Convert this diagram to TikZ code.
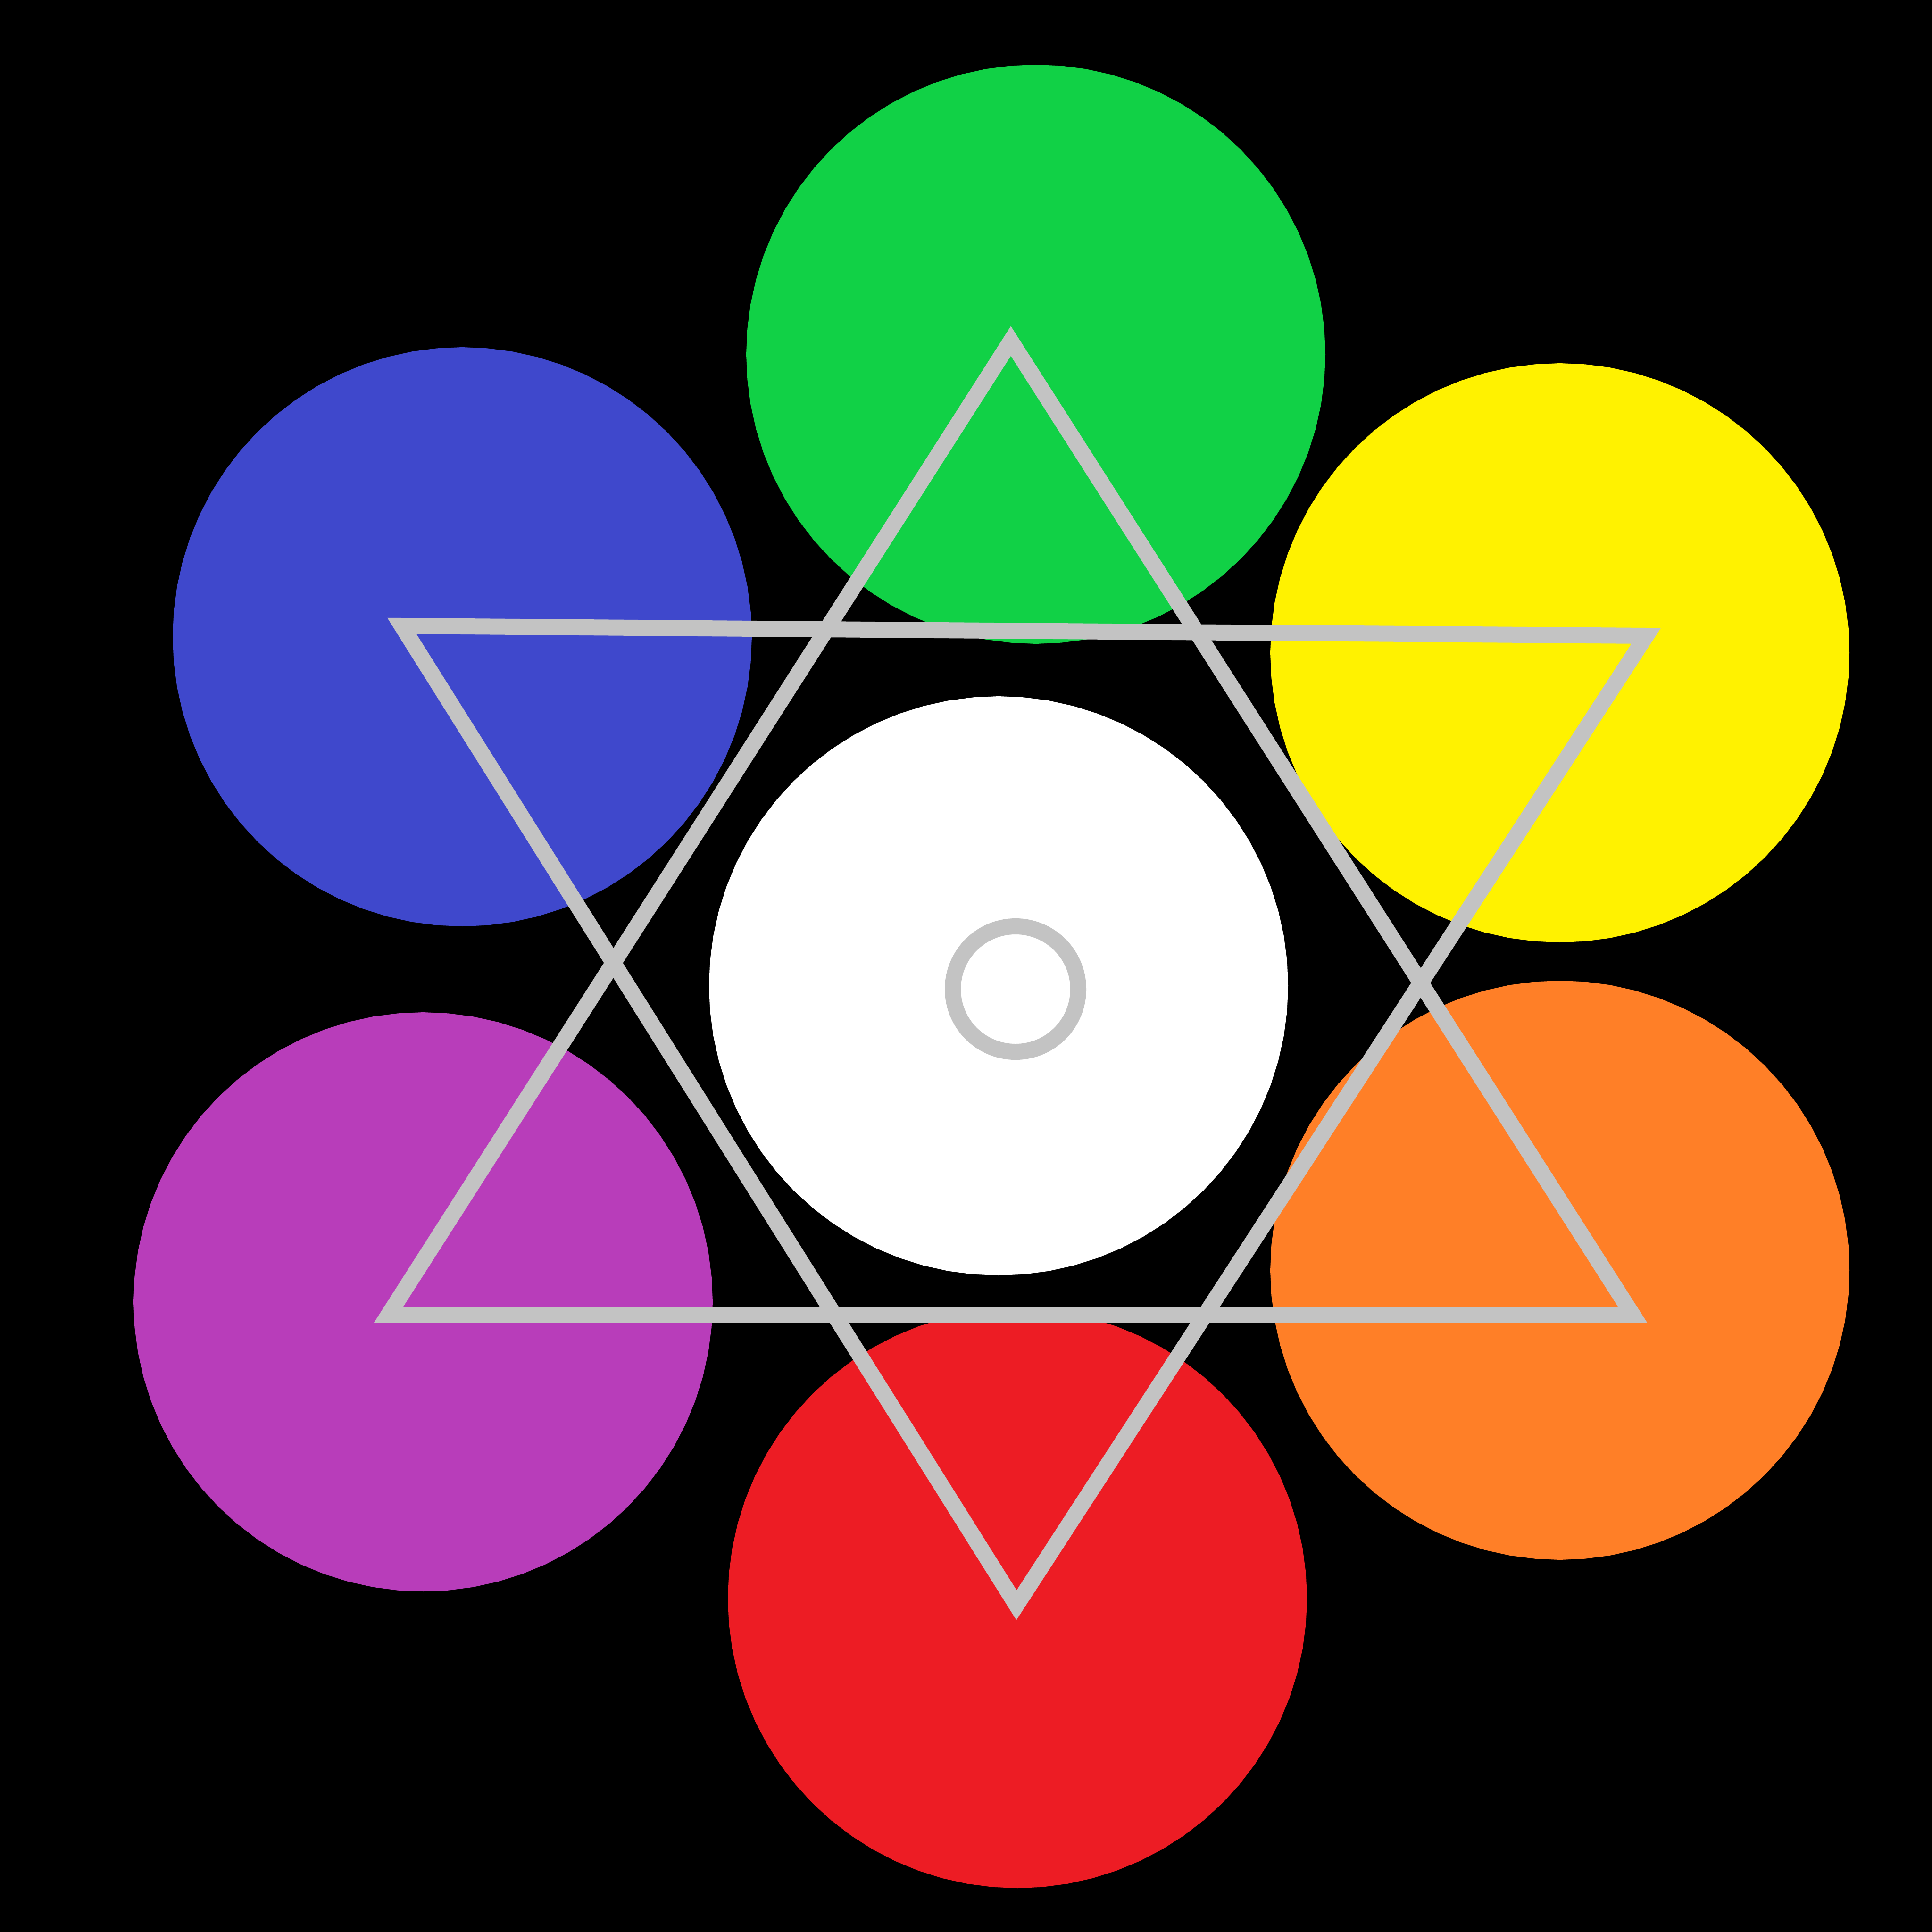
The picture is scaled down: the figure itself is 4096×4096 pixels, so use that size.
\documentclass[tikz,border=0pt]{standalone}
\usepackage{tikz}
\usetikzlibrary{arrows}

\definecolor{petalgreen}{RGB}{17,209,70}
\definecolor{petalblue}{RGB}{63,72,204}
\definecolor{petalyellow}{RGB}{255,242,0}
\definecolor{petalorange}{RGB}{255,127,39}
\definecolor{petalpurple}{RGB}{184,61,186}
\definecolor{petalred}{RGB}{237,28,36}
\definecolor{stargray}{RGB}{195,195,195}

\begin{document}
\begin{tikzpicture} [x = 0.1mm, y = -0.1mm, star/.style = {stargray, line width = 3.4mm, line join = miter}]
	\fill [black] (0,0) rectangle (4096,4096);
	\useasboundingbox (0,0) rectangle (4096,4096);
	% the six petals and the centre (drawn as 72-gons)
	\foreach \cx/\cy/\col in {2196/751/petalgreen, 980/1350/petalblue, 3307/1384/petalyellow, 3307/2693/petalorange, 897/2760/petalpurple, 2157/3389/petalred, 2117/2090/white}
		\fill [\col, shift = {(\cx,\cy)}] plot [domain = 0:360, samples = 73] (\x:614) -- cycle;
	% the two triangles
	\coordinate (up top) at (2143,723);
	\coordinate (up left) at (824,2787);
	\coordinate (up right) at (3461,2787);
	\coordinate (down left) at (852,1327);
	\coordinate (down right) at (3490,1348);
	\coordinate (down bottom) at (2155,3403);
	\draw [star] (up top) -- (up left) -- (up right) -- cycle;
	\draw [star] (down left) -- (down right) -- (down bottom) -- cycle;
	\draw [stargray, line width = 3.4mm] (2153,2097) circle (133);
	\end{tikzpicture}
\end{document}
